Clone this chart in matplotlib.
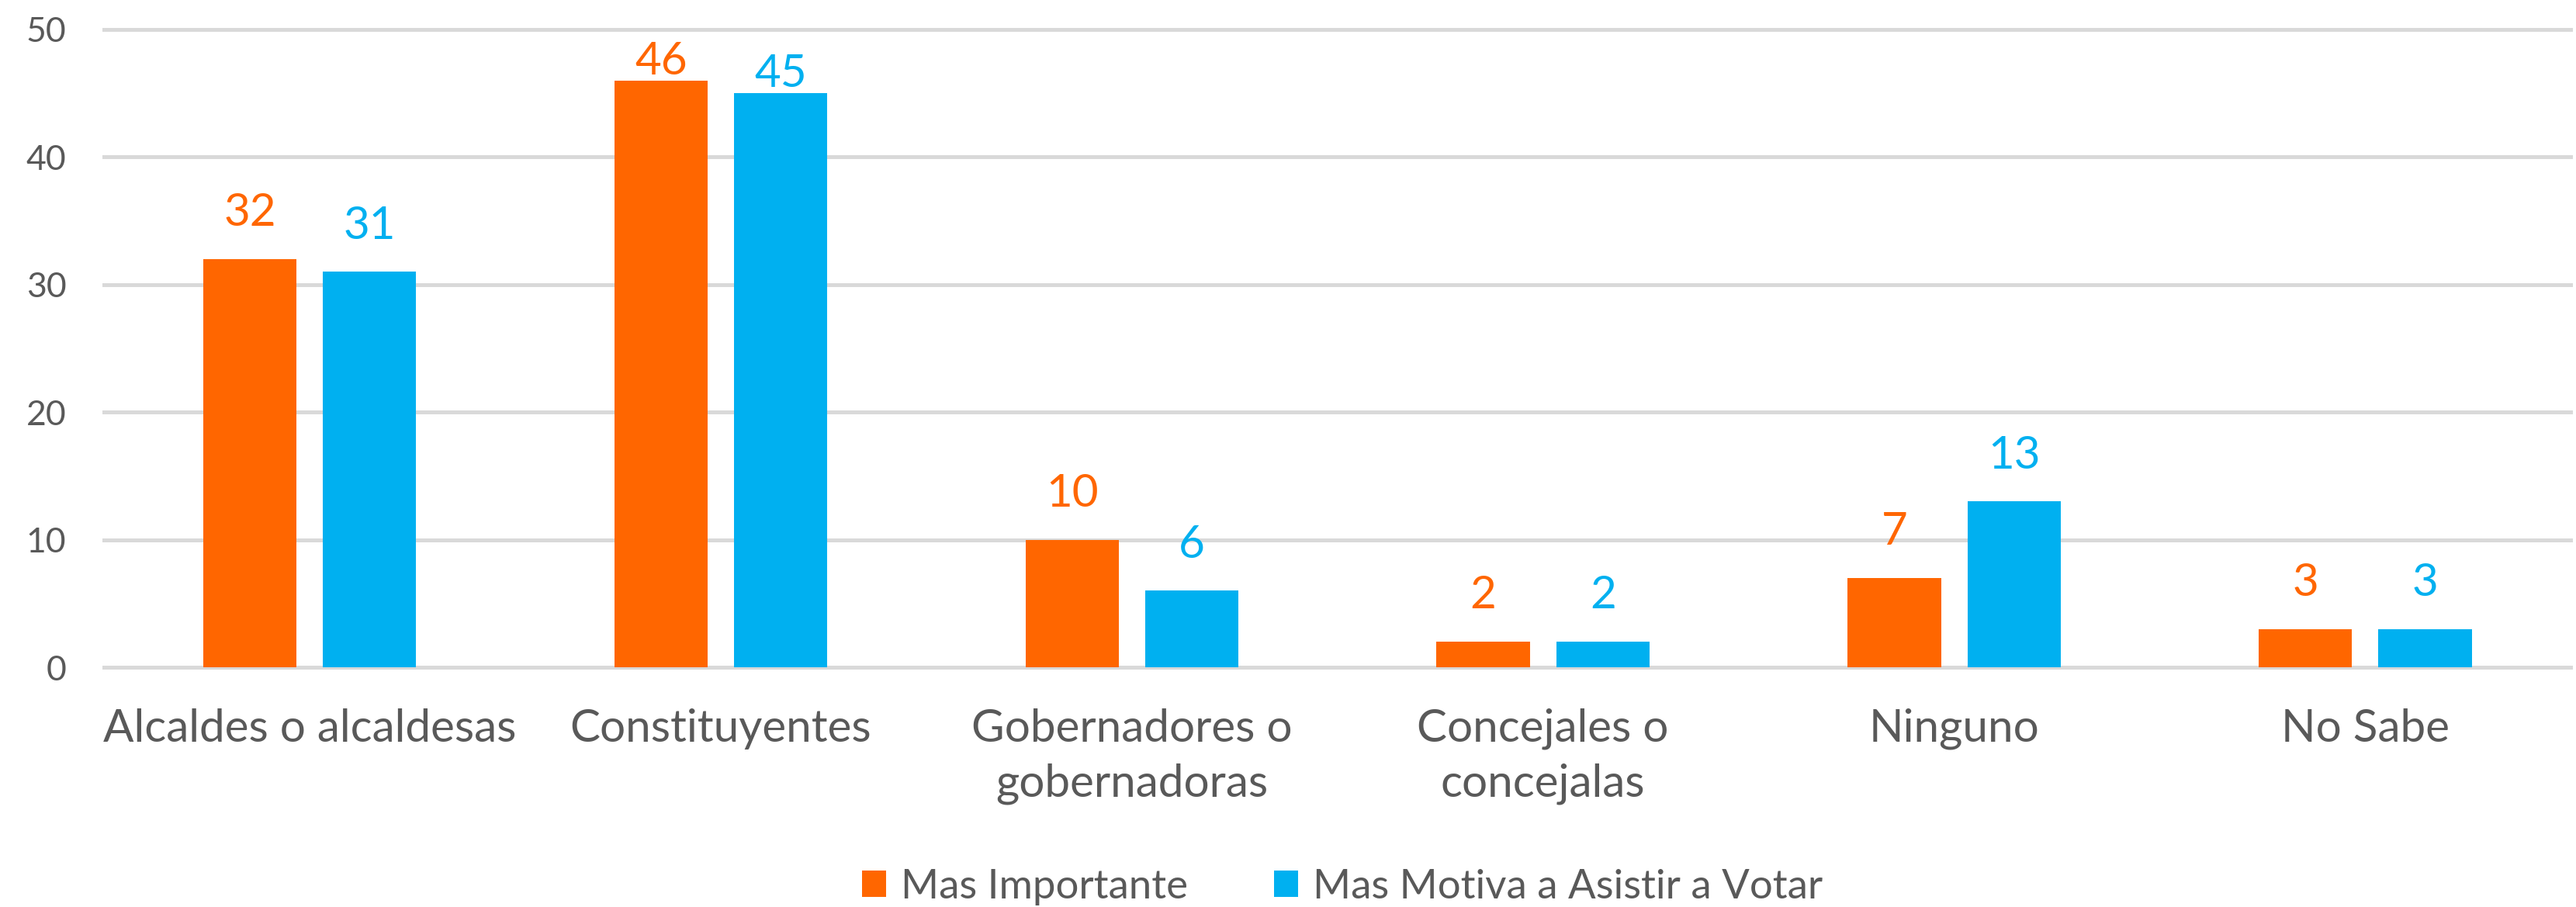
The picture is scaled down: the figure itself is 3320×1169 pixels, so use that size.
import numpy as np
import matplotlib
matplotlib.use("Agg")
import matplotlib.pyplot as plt

# data
categories = ["Alcaldes o alcaldesas", "Constituyentes", "Gobernadores o\ngobernadoras",
              "Concejales o\nconcejalas", "Ninguno", "No Sabe"]
mas_importante = [32, 46, 10, 2, 7, 3]
mas_motiva = [31, 45, 6, 2, 13, 3]
series_names = ["Mas Importante", "Mas Motiva a Asistir a Votar"]
yticks = [0, 10, 20, 30, 40, 50]

ORANGE = "#FF6600"; BLUE = "#00B0F0"; GREY = "#595959"; GRID = "#D9D9D9"
plt.rcParams["font.family"] = ["Lato", "DejaVu Sans"]

fig = plt.figure(figsize=(33.2, 11.69), dpi=100)
ax = fig.add_axes([0.0404, 0.2643, 0.9576, 0.7032])

x = np.arange(len(categories)); w = 0.227; off = w/2 + 0.032
b1 = ax.bar(x - off, mas_importante, w, color=ORANGE, label=series_names[0], zorder=3)
b2 = ax.bar(x + off, mas_motiva, w, color=BLUE, label=series_names[1], zorder=3)

for bars, vals, col in [(b1, mas_importante, ORANGE), (b2, mas_motiva, BLUE)]:
    for r, v in zip(bars, vals):
        pad = 0.5 if v > 40 else 2.6
        ax.text(r.get_x() + r.get_width()/2, v + pad, str(v), ha="center", va="baseline",
                color=col, fontsize=42)

ax.set_xlim(-0.5, len(categories) - 0.5)
ax.set_ylim(0, 50)
ax.set_yticks(yticks)
ax.set_xticks(x)
ax.set_xticklabels(categories, fontsize=42, color=GREY, linespacing=1.4)
ax.tick_params(axis="y", length=0, pad=35, labelsize=32, labelcolor=GREY)
ax.tick_params(axis="x", length=0, pad=38)
ax.grid(axis="y", color=GRID, lw=3.6, zorder=0)
for gl in ax.get_ygridlines():
    gl.set_clip_on(False)
for s in ax.spines.values():
    s.set_visible(False)
ax.set_axisbelow(True)

leg = fig.legend(handles=[b1, b2], labels=series_names, loc="center", bbox_to_anchor=(0.521, 0.022),
                 ncol=2, frameon=False, fontsize=38, handlelength=0.6, handleheight=0.6,
                 handletextpad=0.35, columnspacing=2.1, borderpad=0)
for t in leg.get_texts():
    t.set_color(GREY)

fig.savefig("out.png", dpi=100)
